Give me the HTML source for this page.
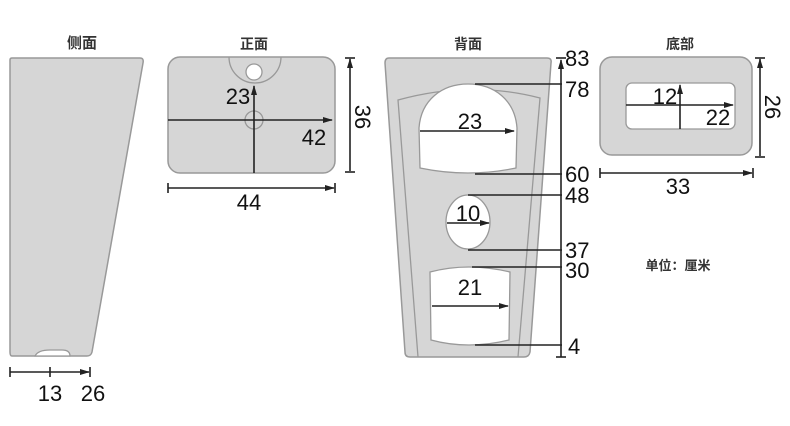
<!DOCTYPE html>
<html><head><meta charset="utf-8"><style>
html,body{margin:0;padding:0;background:#fff;}
svg{display:block;}
text{font-family:"Liberation Sans","Noto Sans CJK SC",sans-serif;fill:#111;}
.t{font-size:15px;font-weight:bold;text-anchor:middle;fill:#333;}
.n{font-size:22px;}
</style></head><body>
<svg width="790" height="426" viewBox="0 0 790 426" xmlns="http://www.w3.org/2000/svg">
<defs>
<marker id="a" markerWidth="10" markerHeight="8" refX="9" refY="4" orient="auto" markerUnits="userSpaceOnUse"><path d="M0,1 L10,4 L0,7 Z" fill="#222"/></marker>
</defs>
<g stroke="#999" stroke-width="1.5" fill="#d6d6d6">
<path d="M12,58 L140,58 Q144,58 143,63 L92,352 Q91,356 87,356 L12,356 Q10,356 10,352 L10,60 Q10,58 12,58 Z"/>
<rect x="168" y="57" width="167" height="116" rx="12"/>
<path d="M389,58 L547,58 Q552,58 551,63 L530,352 Q529,357 524,357 L410,357 Q405,357 405,352 L385,63 Q385,58 389,58 Z"/>
<rect x="600" y="57" width="152" height="98" rx="12"/>
</g>
<g fill="none" stroke="#999" stroke-width="1.3">
<path d="M229,57 A26,26 0 0 0 281,57"/>
<path d="M418,357 L398,100 Q470,80 540,98 L518,357"/>
</g>
<g fill="#fff" stroke="#999" stroke-width="1.3">
<path d="M35,356 Q38,350 50,350 L62,350 Q70,350 70,356 Z"/>
<circle cx="254" cy="72" r="8"/>
<circle cx="254" cy="120" r="9" fill="#d6d6d6"/>
<path d="M420,168 L419,128 C421,100 442,84 468,84 C494,84 515,100 517,128 L516,168 Q468,178 420,168 Z"/>
<ellipse cx="468" cy="222" rx="22" ry="27"/>
<path d="M430,272 Q468,262 510,272 L509,340 Q468,350 431,340 Z"/>
<rect x="626" y="83" width="109" height="46" rx="6"/>
</g>
<g stroke="#222" stroke-width="1.6" fill="none">
<line x1="10" y1="372" x2="89" y2="372" marker-end="url(#a)"/>
<line x1="10" y1="367" x2="10" y2="377"/><line x1="50" y1="367" x2="50" y2="377"/><line x1="90" y1="367" x2="90" y2="377"/>
<line x1="168" y1="120" x2="332" y2="120" marker-end="url(#a)"/>
<line x1="254" y1="173" x2="254" y2="86" marker-end="url(#a)"/>
<line x1="350" y1="171" x2="350" y2="59" marker-end="url(#a)"/>
<line x1="345" y1="58" x2="355" y2="58"/><line x1="345" y1="172" x2="355" y2="172"/>
<line x1="168" y1="188" x2="334" y2="188" marker-end="url(#a)"/>
<line x1="168" y1="183" x2="168" y2="193"/><line x1="335" y1="183" x2="335" y2="193"/>
<line x1="420" y1="131" x2="514" y2="131" marker-end="url(#a)"/>
<line x1="447" y1="223" x2="489" y2="223" marker-end="url(#a)"/>
<line x1="432" y1="306" x2="508" y2="306" marker-end="url(#a)"/>
<line x1="561" y1="357" x2="561" y2="60" marker-end="url(#a)"/>
<line x1="556" y1="58" x2="566" y2="58"/><line x1="556" y1="357" x2="566" y2="357"/>
<line x1="475" y1="84" x2="562" y2="84"/>
<line x1="475" y1="174" x2="562" y2="174"/>
<line x1="468" y1="195" x2="562" y2="195"/>
<line x1="468" y1="250" x2="562" y2="250"/>
<line x1="472" y1="267" x2="562" y2="267"/>
<line x1="475" y1="345" x2="562" y2="345"/>
<line x1="626" y1="105" x2="733" y2="105" marker-end="url(#a)"/>
<line x1="680" y1="129" x2="680" y2="85" marker-end="url(#a)"/>
<line x1="760" y1="156" x2="760" y2="59" marker-end="url(#a)"/>
<line x1="755" y1="58" x2="765" y2="58"/><line x1="755" y1="157" x2="765" y2="157"/>
<line x1="600" y1="173" x2="752" y2="173" marker-end="url(#a)"/>
<line x1="600" y1="168" x2="600" y2="178"/><line x1="753" y1="168" x2="753" y2="178"/>
</g>
<text class="t" x="82" y="48">侧面</text>
<text class="t" x="254" y="49" style="font-size:14px">正面</text>
<text class="t" x="468" y="49" style="font-size:14px">背面</text>
<text class="t" x="680" y="49" style="font-size:14px">底部</text>
<text class="n" x="50" y="401" text-anchor="middle">13</text>
<text class="n" x="93" y="401" text-anchor="middle">26</text>
<text class="n" x="238" y="104" text-anchor="middle">23</text>
<text class="n" x="314" y="145" text-anchor="middle">42</text>
<text class="n" x="249" y="210" text-anchor="middle">44</text>
<text class="n" transform="translate(355,117) rotate(90)" text-anchor="middle">36</text>
<text class="n" x="470" y="129" text-anchor="middle">23</text>
<text class="n" x="468" y="221" text-anchor="middle">10</text>
<text class="n" x="470" y="295" text-anchor="middle">21</text>
<text class="n" x="565" y="66">83</text>
<text class="n" x="565" y="97">78</text>
<text class="n" x="565" y="182">60</text>
<text class="n" x="565" y="203">48</text>
<text class="n" x="565" y="258">37</text>
<text class="n" x="565" y="278">30</text>
<text class="n" x="568" y="354">4</text>
<text class="n" x="665" y="104" text-anchor="middle">12</text>
<text class="n" x="718" y="125" text-anchor="middle">22</text>
<text class="n" x="678" y="194" text-anchor="middle">33</text>
<text class="n" transform="translate(765,107) rotate(90)" text-anchor="middle">26</text>
<text x="678" y="270" text-anchor="middle" style="font-size:13px;font-weight:bold;fill:#333">单位：厘米</text>
</svg>
</body></html>
